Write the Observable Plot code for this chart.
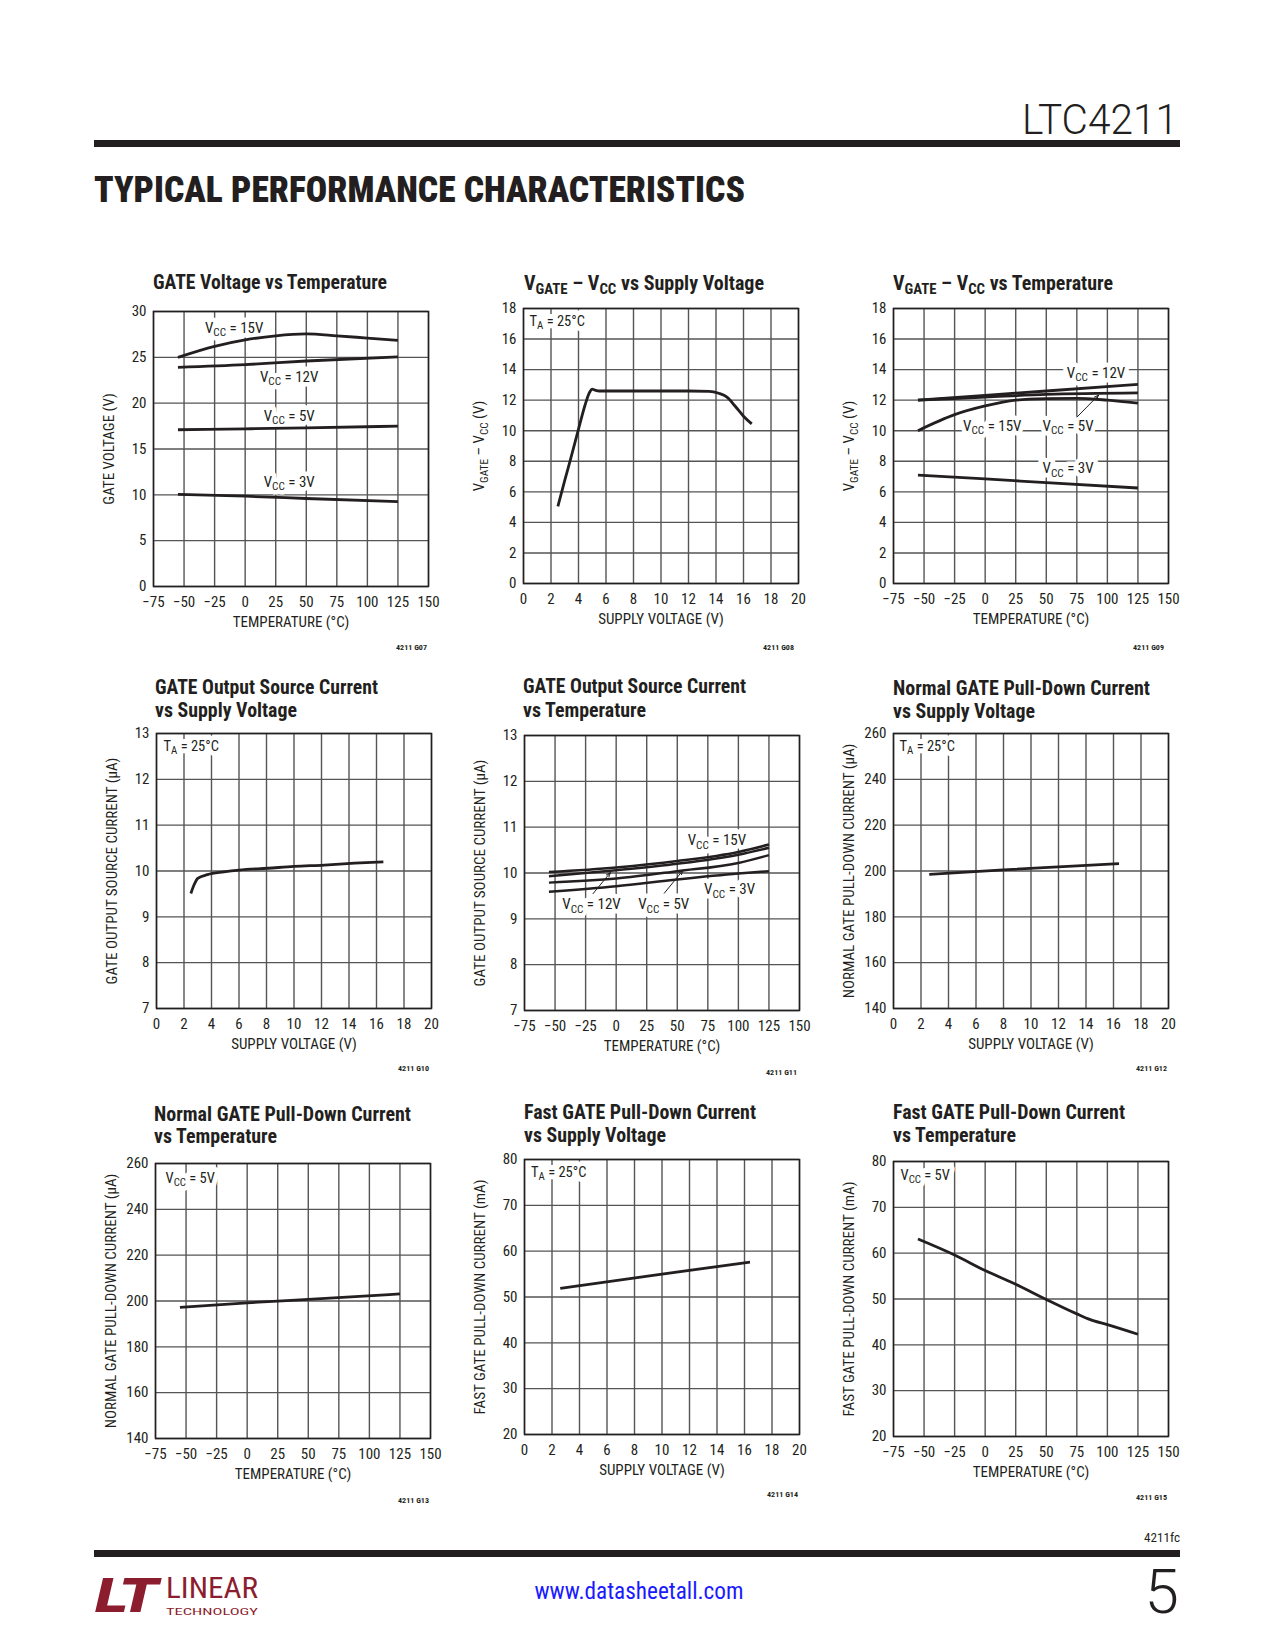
<!DOCTYPE html>
<html><head><meta charset="utf-8">
<script src="https://cdn.jsdelivr.net/npm/d3@7"></script>
<script src="https://cdn.jsdelivr.net/npm/@observablehq/plot@0.6"></script>
<style>
html,body{margin:0;padding:0;background:#fff;}
#page{position:relative;width:1275px;height:1650px;overflow:hidden;background:#fff;}
#overlay{position:absolute;left:0;top:0;}
.nar{font-family:'Liberation Sans Narrow','Arial Narrow','Roboto Condensed','DejaVu Sans Condensed',sans-serif;}
</style></head>
<body><div id="page">
<svg id="overlay" width="1275" height="1650" xmlns="http://www.w3.org/2000/svg" class="nar" fill="#231f20">
  <text x="1178" y="134" text-anchor="end" font-family="Roboto,'Liberation Sans'" font-weight="300" font-size="42" textLength="156" lengthAdjust="spacingAndGlyphs">LTC4211</text>
  <rect x="94" y="140" width="1086" height="7"/>
  <text x="94" y="202" font-weight="900" font-size="37" textLength="651" lengthAdjust="spacingAndGlyphs">TYPICAL PERFORMANCE CHARACTERISTICS</text>

  <g font-weight="bold" font-size="19.5">
    <text x="153" y="289" textLength="234" lengthAdjust="spacingAndGlyphs">GATE Voltage vs Temperature</text>
    <text x="524" y="290" textLength="240" lengthAdjust="spacingAndGlyphs">V<tspan dy="4" font-size="14.5">GATE</tspan><tspan dy="-4"> – V</tspan><tspan dy="4" font-size="14.5">CC</tspan><tspan dy="-4"> vs Supply Voltage</tspan></text>
    <text x="893" y="290" textLength="220" lengthAdjust="spacingAndGlyphs">V<tspan dy="4" font-size="14.5">GATE</tspan><tspan dy="-4"> – V</tspan><tspan dy="4" font-size="14.5">CC</tspan><tspan dy="-4"> vs Temperature</tspan></text>

    <text x="155" y="694" textLength="223" lengthAdjust="spacingAndGlyphs">GATE Output Source Current</text>
    <text x="155" y="717" textLength="142" lengthAdjust="spacingAndGlyphs">vs Supply Voltage</text>
    <text x="523" y="693" textLength="223" lengthAdjust="spacingAndGlyphs">GATE Output Source Current</text>
    <text x="523" y="716.5" textLength="123" lengthAdjust="spacingAndGlyphs">vs Temperature</text>
    <text x="893" y="695" textLength="257" lengthAdjust="spacingAndGlyphs">Normal GATE Pull-Down Current</text>
    <text x="893" y="718" textLength="142" lengthAdjust="spacingAndGlyphs">vs Supply Voltage</text>

    <text x="154" y="1121" textLength="257" lengthAdjust="spacingAndGlyphs">Normal GATE Pull-Down Current</text>
    <text x="154" y="1143" textLength="123" lengthAdjust="spacingAndGlyphs">vs Temperature</text>
    <text x="524" y="1119" textLength="232" lengthAdjust="spacingAndGlyphs">Fast GATE Pull-Down Current</text>
    <text x="524" y="1142" textLength="142" lengthAdjust="spacingAndGlyphs">vs Supply Voltage</text>
    <text x="893" y="1119" textLength="232" lengthAdjust="spacingAndGlyphs">Fast GATE Pull-Down Current</text>
    <text x="893" y="1142" textLength="123" lengthAdjust="spacingAndGlyphs">vs Temperature</text>
  </g>

  <g font-weight="bold" font-size="7.5" text-anchor="end">
    <text x="427" y="650" textLength="31" lengthAdjust="spacingAndGlyphs">4211 G07</text>
    <text x="794" y="650" textLength="31" lengthAdjust="spacingAndGlyphs">4211 G08</text>
    <text x="1164" y="650" textLength="31" lengthAdjust="spacingAndGlyphs">4211 G09</text>
    <text x="429" y="1071" textLength="31" lengthAdjust="spacingAndGlyphs">4211 G10</text>
    <text x="797" y="1075" textLength="31" lengthAdjust="spacingAndGlyphs">4211 G11</text>
    <text x="1167" y="1071" textLength="31" lengthAdjust="spacingAndGlyphs">4211 G12</text>
    <text x="429" y="1503" textLength="31" lengthAdjust="spacingAndGlyphs">4211 G13</text>
    <text x="798" y="1497" textLength="31" lengthAdjust="spacingAndGlyphs">4211 G14</text>
    <text x="1167" y="1500" textLength="31" lengthAdjust="spacingAndGlyphs">4211 G15</text>
  </g>

  <text x="1180" y="1542" text-anchor="end" font-size="13" textLength="36" lengthAdjust="spacingAndGlyphs">4211fc</text>
  <rect x="94" y="1550" width="1086" height="7"/>
  <g fill="#8c1d2e">
    <text x="94" y="1612" font-family="'DejaVu Sans'" font-weight="bold" font-style="italic" font-size="46" textLength="64" lengthAdjust="spacingAndGlyphs">LT</text>
    <text x="166" y="1598" font-size="29" textLength="92" lengthAdjust="spacingAndGlyphs">LINEAR</text>
    <text x="166" y="1615" font-size="9.5" textLength="92" lengthAdjust="spacingAndGlyphs">TECHNOLOGY</text>
  </g>
  <text x="639" y="1599" text-anchor="middle" font-size="23" fill="#1a1aff" textLength="209" lengthAdjust="spacingAndGlyphs">www.datasheetall.com</text>
  <text x="1179" y="1613" text-anchor="end" font-family="Roboto,'Liberation Sans'" font-weight="300" font-size="62">5</text>
</svg>
</div>
<script>
// ---------- tick labels ----------
const tempTicks = [-75, -50, -25, 0, 25, 50, 75, 100, 125, 150];
const supplyTicks = [0, 2, 4, 6, 8, 10, 12, 14, 16, 18, 20];
const g07Ticks = [0, 5, 10, 15, 20, 25, 30];
const dvTicks = [0, 2, 4, 6, 8, 10, 12, 14, 16, 18];
const srcTicks = [7, 8, 9, 10, 11, 12, 13];
const normTicks = [140, 160, 180, 200, 220, 240, 260];
const fastTicks = [20, 30, 40, 50, 60, 70, 80];

// ---------- G07 GATE voltage vs temperature ----------
const g07T15 = [-55, -25, 0, 25, 50, 75, 100, 125];
const g07V15 = [25.0, 26.2, 26.9, 27.35, 27.55, 27.35, 27.1, 26.85];
const g07T = [-55, 0, 50, 125];
const g07V12 = [23.9, 24.2, 24.6, 25.05];
const g07V5 = [17.1, 17.2, 17.3, 17.5];
const g07V3 = [10.05, 9.85, 9.6, 9.25];

// ---------- G08 VGATE-VCC vs supply ----------
const g08Vcc = [2.5, 3, 3.5, 4, 4.5, 4.8, 5.0, 5.2, 5.5, 8, 10, 12, 13.5, 14.2, 14.8, 15.4, 16, 16.6];
const g08Dv = [5.05, 6.75, 8.4, 10.1, 11.75, 12.5, 12.72, 12.66, 12.6, 12.6, 12.6, 12.6, 12.58, 12.45, 12.2, 11.6, 10.95, 10.45];

// ---------- G09 VGATE-VCC vs temperature ----------
const g09T = [-55, 0, 50, 125];
const g09V12 = [12.0, 12.32, 12.6, 13.03];
const g09V5 = [12.0, 12.2, 12.38, 12.48];
const g09V3 = [7.1, 6.85, 6.6, 6.25];
const g09T15 = [-55, -25, 0, 25, 50, 75, 100, 125];
const g09V15 = [10.0, 11.05, 11.62, 12.0, 12.1, 12.12, 12.0, 11.8];

// ---------- G10 source current vs supply ----------
const g10Vcc = [2.5, 2.75, 3.0, 3.7, 4.9, 6.0, 8.1, 10, 12.2, 14.4, 16.5];
const g10I = [9.51, 9.71, 9.84, 9.92, 9.98, 10.02, 10.06, 10.1, 10.13, 10.17, 10.2];

// ---------- G11 source current vs temperature ----------
const g11T = [-55, 0, 50, 100, 125];
const g11I15 = [10.02, 10.12, 10.26, 10.46, 10.62];
const g11I12 = [9.93, 10.06, 10.2, 10.4, 10.55];
const g11I5 = [9.79, 9.88, 10.04, 10.22, 10.39];
const g11I3 = [9.59, 9.71, 9.86, 9.99, 10.04];

// ---------- G12 normal pull-down vs supply ----------
const g12Vcc = [2.6, 8, 16.4];
const g12I = [198.5, 200.5, 203.2];

// ---------- G13 normal pull-down vs temperature ----------
const g13T = [-55, 0, 50, 125];
const g13I = [197.2, 199.2, 200.7, 203.1];

// ---------- G14 fast pull-down vs supply ----------
const g14Vcc = [2.6, 10, 16.4];
const g14I = [51.9, 55.0, 57.6];

// ---------- G15 fast pull-down vs temperature ----------
const g15T = [-55, -25, 0, 25, 50, 75, 86, 100, 125];
const g15I = [63.1, 59.6, 56.2, 53.2, 49.9, 46.75, 45.5, 44.4, 42.3];

const FONT = "'Liberation Sans Narrow','Arial Narrow','Roboto Condensed','DejaVu Sans Condensed',sans-serif";
const INK = "#231f20";
const GRID = "#555";
const TEMP_LABEL = "TEMPERATURE (°C)";
const SUP_LABEL = "SUPPLY VOLTAGE (V)";
const TA = "T_{A} = 25°C";

const charts = [
  {left: 153, top: 311, xDomain: [-75, 150], xTicks: tempTicks, yDomain: [0, 30], yTicks: g07Ticks,
   xLabel: TEMP_LABEL, yLabel: "GATE VOLTAGE (V)",
   series: [{x: g07T15, y: g07V15, curve: "monotone-x"}, {x: g07T, y: g07V12, curve: "monotone-x"}, {x: g07T, y: g07V5, curve: "monotone-x"}, {x: g07T, y: g07V3, curve: "monotone-x"}],
   labels: [{x: -9, y: 28.2, t: "V_{CC} = 15V"}, {x: 36, y: 22.86, t: "V_{CC} = 12V"}, {x: 36, y: 18.6, t: "V_{CC} = 5V"}, {x: 36, y: 11.4, t: "V_{CC} = 3V"}]},
  {left: 523, top: 308, xDomain: [0, 20], xTicks: supplyTicks, yDomain: [0, 18], yTicks: dvTicks,
   xLabel: SUP_LABEL, yLabel: "V_{GATE} – V_{CC} (V)",
   series: [{x: g08Vcc, y: g08Dv, curve: "monotone-x"}], corner: {t: TA, dx: 6, dy: 13}},
  {left: 893, top: 308, xDomain: [-75, 150], xTicks: tempTicks, yDomain: [0, 18], yTicks: dvTicks,
   xLabel: TEMP_LABEL, yLabel: "V_{GATE} – V_{CC} (V)",
   series: [{x: g09T, y: g09V12, curve: "monotone-x"}, {x: g09T, y: g09V5, curve: "monotone-x"}, {x: g09T, y: g09V3, curve: "monotone-x"}, {x: g09T15, y: g09V15, curve: "monotone-x"}],
   labels: [{x: 90.7, y: 13.79, t: "V_{CC} = 12V"}, {x: 5.8, y: 10.32, t: "V_{CC} = 15V"}, {x: 67.8, y: 10.32, t: "V_{CC} = 5V"}, {x: 67.8, y: 7.53, t: "V_{CC} = 3V"}],
   arrows: [{x1: 75.2, y1: 10.9, x2: 92.8, y2: 12.33}]},
  {left: 156, top: 733, xDomain: [0, 20], xTicks: supplyTicks, yDomain: [7, 13], yTicks: srcTicks,
   xLabel: SUP_LABEL, yLabel: "GATE OUTPUT SOURCE CURRENT (µA)",
   series: [{x: g10Vcc, y: g10I, curve: "monotone-x"}], corner: {t: TA, dx: 7, dy: 13}},
  {left: 524, top: 735, xDomain: [-75, 150], xTicks: tempTicks, yDomain: [7, 13], yTicks: srcTicks,
   xLabel: TEMP_LABEL, yLabel: "GATE OUTPUT SOURCE CURRENT (µA)",
   series: [{x: g11T, y: g11I15, curve: "monotone-x"}, {x: g11T, y: g11I12, curve: "monotone-x"}, {x: g11T, y: g11I5, curve: "monotone-x"}, {x: g11T, y: g11I3, curve: "monotone-x"}],
   labels: [{x: 82.4, y: 10.71, t: "V_{CC} = 15V"}, {x: -20.2, y: 9.31, t: "V_{CC} = 12V"}, {x: 38.9, y: 9.31, t: "V_{CC} = 5V"}, {x: 92.8, y: 9.64, t: "V_{CC} = 3V"}],
   arrows: [{x1: -18.9, y1: 9.55, x2: -4.7, y2: 10.01}, {x1: 39.4, y1: 9.56, x2: 54.7, y2: 10.06}], sw: 2.5},
  {left: 893, top: 733, xDomain: [0, 20], xTicks: supplyTicks, yDomain: [140, 260], yTicks: normTicks,
   xLabel: SUP_LABEL, yLabel: "NORMAL GATE PULL-DOWN CURRENT (µA)",
   series: [{x: g12Vcc, y: g12I, curve: "monotone-x"}], corner: {t: TA, dx: 6, dy: 12.5}},
  {left: 155, top: 1163, xDomain: [-75, 150], xTicks: tempTicks, yDomain: [140, 260], yTicks: normTicks,
   xLabel: TEMP_LABEL, yLabel: "NORMAL GATE PULL-DOWN CURRENT (µA)",
   series: [{x: g13T, y: g13I, curve: "monotone-x"}], corner: {t: "V_{CC} = 5V", dx: 10, dy: 14.5}},
  {left: 524, top: 1159, xDomain: [0, 20], xTicks: supplyTicks, yDomain: [20, 80], yTicks: fastTicks,
   xLabel: SUP_LABEL, yLabel: "FAST GATE PULL-DOWN CURRENT (mA)",
   series: [{x: g14Vcc, y: g14I, curve: "monotone-x"}], corner: {t: TA, dx: 6.5, dy: 13}},
  {left: 893, top: 1161, xDomain: [-75, 150], xTicks: tempTicks, yDomain: [20, 80], yTicks: fastTicks,
   xLabel: TEMP_LABEL, yLabel: "FAST GATE PULL-DOWN CURRENT (mA)",
   series: [{x: g15T, y: g15I, curve: "monotone-x"}], corner: {t: "V_{CC} = 5V", dx: 7, dy: 13.5}}
];

const NS = "http://www.w3.org/2000/svg";
function subscriptify(svg) {
  svg.querySelectorAll("text").forEach(t => {
    const s = t.textContent;
    if (!s.includes("_{")) return;
    while (t.firstChild) t.removeChild(t.firstChild);
    const re = /_\{([^}]*)\}/g;
    let last = 0, m, pendingUp = false;
    const add = (str, sub) => {
      const sp = document.createElementNS(NS, "tspan");
      sp.textContent = str;
      if (sub) { sp.setAttribute("dy", "0.3em"); sp.setAttribute("font-size", "75%"); }
      else if (pendingUp) { sp.setAttribute("dy", "-0.225em"); }
      pendingUp = sub;
      t.appendChild(sp);
    };
    while ((m = re.exec(s))) {
      if (m.index > last) add(s.slice(last, m.index), false);
      add(m[1], true);
      last = re.lastIndex;
    }
    if (last < s.length) add(s.slice(last), false);
  });
}

const mL = 62, mR = 32, mT = 12, mB = 50, FW = 275, FH = 275;
const page = document.getElementById("page");
const fmt = d3.format("d");

for (const c of charts) {
  const sw = c.sw || 2.8;
  const marks = [
    Plot.ruleX(c.xTicks, {stroke: GRID, strokeWidth: 1.4}),
    Plot.ruleY(c.yTicks, {stroke: GRID, strokeWidth: 1.4})
  ];
  const labelOpts = {x: "x", y: "y", text: "t", fontSize: 15};
  if (c.labels) marks.push(Plot.text(c.labels, {...labelOpts, fill: "white", stroke: "white", strokeWidth: 9}));
  if (c.corner) marks.push(Plot.text([c.corner], {frameAnchor: "top-left", text: d => d.t, dx: c.corner.dx, dy: c.corner.dy,
    textAnchor: "start", lineAnchor: "middle", fontSize: 14.5, fill: "white", stroke: "white", strokeWidth: 10}));
  marks.push(Plot.frame({stroke: INK, strokeWidth: 1.5}));
  for (const s of c.series) {
    marks.push(Plot.line(s.x, {x: s.x, y: s.y, curve: s.curve || "linear", stroke: INK, strokeWidth: sw, strokeLinecap: "butt"}));
  }
  if (c.labels) marks.push(Plot.text(c.labels, {...labelOpts, fill: INK}));
  if (c.corner) marks.push(Plot.text([c.corner], {frameAnchor: "top-left", text: d => d.t, dx: c.corner.dx, dy: c.corner.dy,
    textAnchor: "start", lineAnchor: "middle", fontSize: 14.5, fill: INK}));
  if (c.arrows) marks.push(Plot.arrow(c.arrows, {x1: "x1", y1: "y1", x2: "x2", y2: "y2", stroke: INK, strokeWidth: 1, headLength: 7, headAngle: 40}));
  marks.push(Plot.text([c.yLabel], {frameAnchor: "left", text: d => d, dx: -44, rotate: -90, textAnchor: "middle", lineAnchor: "middle", fontSize: 15, fill: INK}));
  marks.push(Plot.text([c.xLabel], {frameAnchor: "bottom", text: d => d, dy: 36, textAnchor: "middle", lineAnchor: "middle", fontSize: 15, fill: INK}));

  const el = Plot.plot({
    width: FW + mL + mR, height: FH + mT + mB,
    marginLeft: mL, marginRight: mR, marginTop: mT, marginBottom: mB,
    style: {fontFamily: FONT, fontSize: "15px", color: INK, background: "transparent", overflow: "visible"},
    x: {domain: c.xDomain, ticks: c.xTicks, tickSize: 0, tickPadding: 9.5, label: null, tickFormat: fmt},
    y: {domain: c.yDomain, ticks: c.yTicks, tickSize: 0, tickPadding: 7, label: null, tickFormat: fmt},
    marks
  });
  subscriptify(el);
  el.style.position = "absolute";
  el.style.left = (c.left - mL) + "px";
  el.style.top = (c.top - mT) + "px";
  el.style.maxWidth = "none";
  page.appendChild(el);
}
</script>
</body></html>
